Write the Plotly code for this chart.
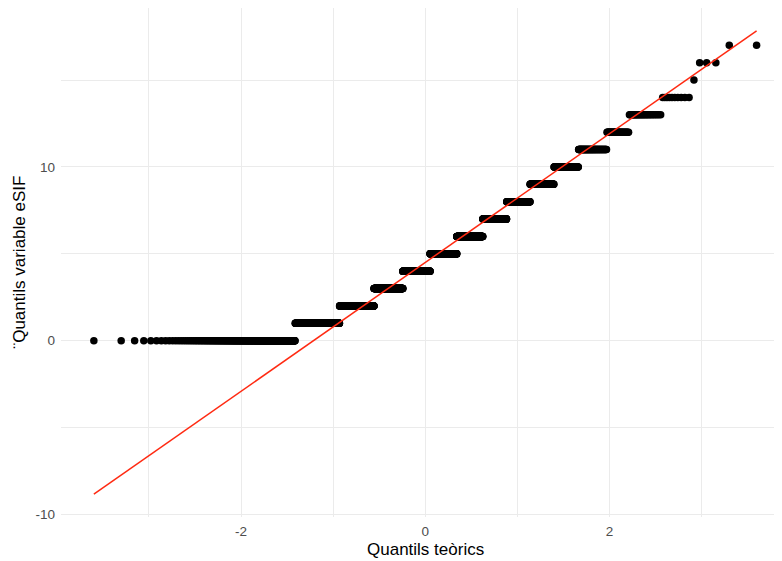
import numpy as np
import plotly.graph_objects as go
from statistics import NormalDist

values = list(range(18))
counts = [246, 303, 353, 358, 365, 353, 312, 243, 189, 145, 103, 74, 34, 26, 10, 1, 3, 2]

x_title = "Quantils teòrics"
y_title = "¨Quantils variable eSIF"
x_ticks = [-2, 0, 2]
y_ticks = [-10, 0, 10]

# stat_qq: sample quantiles vs theoretical normal quantiles (ppoints)
nd = NormalDist()
sample = np.repeat(values, counts)
n = len(sample)
probs = (np.arange(1, n + 1) - 0.5) / n
theo = np.array([nd.inv_cdf(p) for p in probs])

# stat_qq_line: line through the quartiles
q1, q3 = np.quantile(sample, [0.25, 0.75])
z1, z3 = nd.inv_cdf(0.25), nd.inv_cdf(0.75)
slope = (q3 - q1) / (z3 - z1)
intercept = q1 - slope * z1
lx = np.array([theo.min(), theo.max()])
ly = intercept + slope * lx

fig = go.Figure()
fig.add_trace(go.Scatter(x=theo, y=sample, mode="markers",
                         marker=dict(color="black", size=7.5, line=dict(width=0)),
                         hoverinfo="skip", showlegend=False))
fig.add_trace(go.Scatter(x=lx, y=ly, mode="lines",
                         line=dict(color="#ff2a12", width=1.5),
                         hoverinfo="skip", showlegend=False))

grid = "#ebebeb"
tickfont = dict(family="Liberation Sans, Arial, sans-serif", size=13.5, color="#4d4d4d")
fig.update_layout(
    width=774, height=553,
    margin=dict(l=52.5, r=0, t=0, b=43.7),
    paper_bgcolor="white", plot_bgcolor="white",
    font=dict(family="Liberation Sans, Arial, sans-serif"),
    xaxis=dict(range=[-3.955, 3.874], tickvals=x_ticks, ticktext=[str(v) for v in x_ticks],
               showgrid=True, gridcolor=grid, gridwidth=1.1, zeroline=False,
               showline=False, ticks="", tickfont=tickfont, ticklabelstandoff=4,
               minor=dict(tickvals=[-3, -1, 1, 3], showgrid=True, gridcolor=grid, gridwidth=0.8)),
    yaxis=dict(range=[-10.15, 19.15], tickvals=y_ticks, ticktext=[str(v) for v in y_ticks],
               showgrid=True, gridcolor=grid, gridwidth=1.1, zeroline=False,
               showline=False, ticks="", tickfont=tickfont, ticklabelstandoff=5,
               minor=dict(tickvals=[-5, 5, 15], showgrid=True, gridcolor=grid, gridwidth=0.8)),
    annotations=[
        dict(text=x_title, xref="paper", yref="paper", x=0.5052, y=0, yshift=-32,
             xanchor="center", yanchor="middle", showarrow=False,
             font=dict(size=17, color="black")),
        dict(text=y_title, xref="paper", yref="paper", x=0, xshift=-42, y=0.5,
             xanchor="center", yanchor="middle", textangle=-90, showarrow=False,
             font=dict(size=17, color="black")),
    ],
)
fig.write_html("out.html")
